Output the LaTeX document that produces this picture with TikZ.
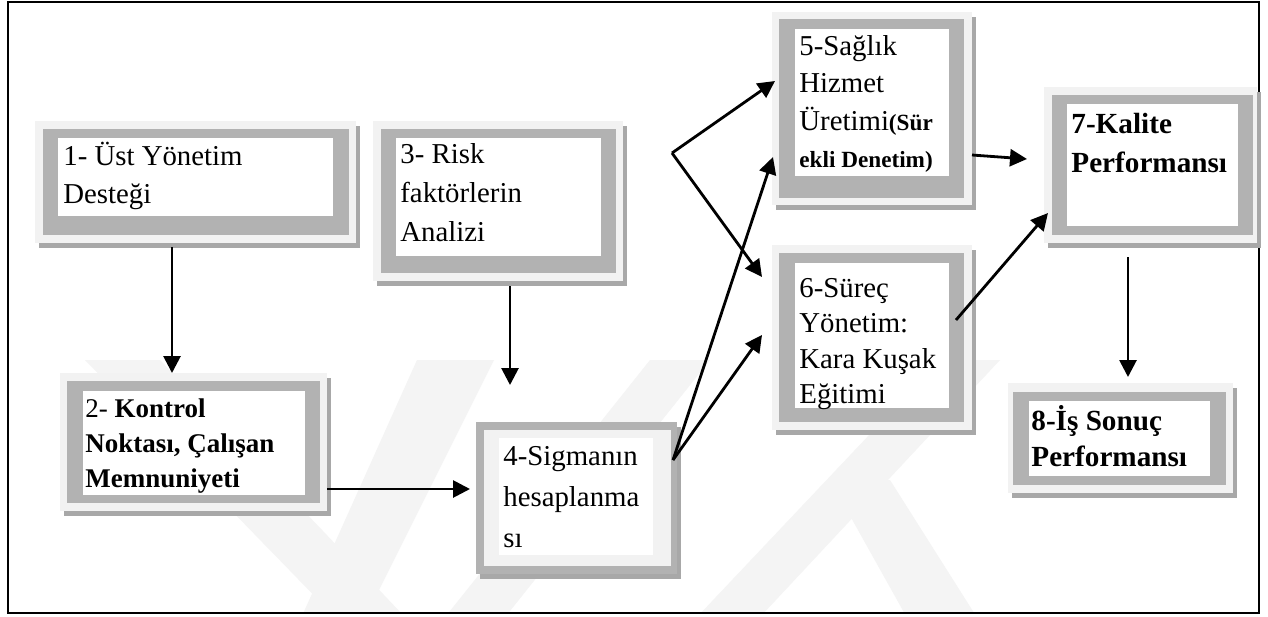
\documentclass[tikz,border=0pt]{standalone}
\usepackage{fontspec}
\setmainfont{Liberation Serif}
\usetikzlibrary{arrows.meta,fit,calc}
\definecolor{boxlight}{HTML}{F2F2F2}
\definecolor{boxgray}{HTML}{B2B2B2}
\definecolor{boxshadow}{HTML}{A8A8A8}
\definecolor{markgray}{HTML}{F4F4F4}
% stacked lines with a fixed baseline distance; the first baseline is the box baseline
\newcommand\rows[2]{\vtop{\baselineskip=#1\lineskiplimit=-\maxdimen #2}}
\newcommand\rowline[1]{\hbox{#1}}
\tikzset{
  lite/.style={fill=boxlight, draw=none, inner sep=0pt, outer sep=0pt},
  rimnode/.style={fill=boxgray, draw=none, inner sep=0pt, outer sep=0pt},
  shade/.style={fill=boxshadow},
  rim/.style={fill=boxgray},
  pane/.style={fill=white},
  emblem/.style={fill=markgray},
  lbl/.style={anchor=base west, inner sep=0pt, font=\fontsize{14.4}{17}\selectfont},
  boldlbl/.style={lbl, font=\fontsize{14.6}{17}\selectfont\bfseries},
  arr/.style={-{Triangle[length=8.5pt,width=8.5pt]}, line width=1.4pt}
}
\begin{document}
\begin{tikzpicture}[x=0.5pt,y=-0.5pt]
\useasboundingbox (0,0) rectangle (1268,616);
\fill[white] (0,0) rectangle (1268,616);

% faint background emblem
\begin{scope}
\clip (9,3) rectangle (1258,612);
\fill[emblem] (85,360) -- (160,360) -- (404,616) -- (334,616) -- cycle;
\fill[emblem] (417,360) -- (494,360) -- (366,616) -- (302,616) -- cycle;
\fill[emblem] (650,360) -- (710,360) -- (506,616) -- (446,616) -- cycle;
\fill[emblem] (940,360) -- (1000,360) -- (761,616) -- (698,616) -- cycle;
\fill[emblem] (830,480) -- (890,480) -- (976,616) -- (906,616) -- cycle;
\end{scope}

% outer frame
\draw[line width=1.2pt] (8,2) rectangle (1259,613);

% box 1
\fill[shade] (39,126) rectangle (360,248);
\node[lite, fit={(35,121)(356,243)}] (b1) {};
\fill[rim] (43,129) rectangle (349,235);
\fill[pane] (58,138) rectangle (333,216);
\node[lbl] (t1) at (63,165) {\rows{19pt}{\rowline{1- Üst Yönetim}\rowline{Desteği}}};

% box 2
\fill[shade] (64,378) rectangle (331,516);
\node[lite, fit={(60,373)(327,511)}] (b2) {};
\fill[rim] (67,381) rectangle (320,503);
\fill[pane] (83,391) rectangle (305,495);
\node[lbl, font=\fontsize{13.5}{16}\selectfont] (t2) at (85,417)
  {\rows{17.5pt}{\rowline{2- \textbf{Kontrol}}\rowline{\textbf{Noktası, Çalışan}}\rowline{\textbf{Memnuniyeti}}}};

% box 3
\fill[shade] (377,126) rectangle (627,286);
\node[lite, fit={(373,121)(623,281)}] (b3) {};
\fill[rim] (381,129) rectangle (616,273);
\fill[pane] (396,138) rectangle (601,256);
\node[lbl] (t3) at (400,163) {\rows{19.7pt}{\rowline{3- Risk}\rowline{faktörlerin}\rowline{Analizi}}};

% box 4
\fill[shade] (480,427) rectangle (681,579);
\node[rimnode, fit={(476,422)(677,574)}] (b4) {};
\fill[boxlight] (484,430) rectangle (671,566);
\fill[pane] (499,438) rectangle (653,555);
\node[lbl] (t4) at (503,465) {\rows{20.5pt}{\rowline{4-Sigmanın}\rowline{hesaplanma}\rowline{sı}}};

% box 5
\fill[shade] (776,17) rectangle (976,210);
\node[lite, fit={(772,12)(972,205)}] (b5) {};
\fill[rim] (779,19) rectangle (964,198);
\fill[pane] (795,29) rectangle (949,176);
\node[lbl] (t5) at (799,55) {\rows{18.8pt}{\rowline{5-Sağlık}\rowline{Hizmet}%
  \rowline{Üretimi{\bfseries\fontsize{11.6}{14}\selectfont(Sür}}%
  \rowline{\bfseries\fontsize{11.6}{14}\selectfont ekli Denetim)}}};

% box 6
\fill[shade] (776,250) rectangle (976,435);
\node[lite, fit={(772,245)(972,430)}] (b6) {};
\fill[rim] (779,253) rectangle (964,422);
\fill[pane] (795,263) rectangle (949,408);
\node[lbl] (t6) at (799,297) {\rows{17.8pt}{\rowline{6-Süreç}\rowline{Yönetim:}\rowline{Kara Kuşak}\rowline{Eğitimi}}};

% box 7
\fill[shade] (1048,92) rectangle (1261,248);
\node[lite, fit={(1044,87)(1257,243)}] (b7) {};
\fill[rim] (1052,95) rectangle (1253,235);
\fill[pane] (1067,104) rectangle (1238,226);
\node[boldlbl] (t7) at (1071,133) {\rows{19.5pt}{\rowline{7-Kalite}\rowline{Performansı}}};

% box 8
\fill[shade] (1012,388) rectangle (1237,498);
\node[lite, fit={(1008,383)(1233,493)}] (b8) {};
\fill[rim] (1013,392) rectangle (1226,485);
\fill[pane] (1029,401) rectangle (1210,476);
\node[boldlbl] (t8) at (1031,430) {\rows{18pt}{\rowline{8-İş Sonuç}\rowline{Performansı}}};

% connector guide points
\coordinate (k1) at (172,300);
\coordinate (k2) at (510,385);
\coordinate (k3) at (400,489);
\coordinate (j1) at (672,153);
\coordinate (j2) at (673,460);
\coordinate (e5a) at (775,81);
\coordinate (e6a) at (762,277);
\coordinate (e6b) at (762,335);
\coordinate (e5b) at (773,157);
\coordinate (s57) at (972,155);
\coordinate (e57) at (1027,159);
\coordinate (s67) at (956,320);
\coordinate (e67) at (1048,213);
\coordinate (k4) at (1128,300);

% connectors
\draw[arr] ($(b1.south -| k1)+(0,4)$) -- (b2.north -| k1);
\draw[arr] ($(b3.south -| k2)+(0,5)$) -- (k2);
\draw[arr] (b2.east |- k3) -- ($(b4.west |- k3)+(-6,0)$);
\draw[arr] (j1) -- (e5a);
\draw[arr] (j1) -- (e6a);
\draw[arr] (j2) -- (e6b);
\draw[arr] (j2) -- (e5b);
\draw[arr] (s57) -- (e57);
\draw[arr] (s67) -- (e67);
\draw[arr] ($(b7.south -| k4)+(0,14)$) -- ($(b8.north -| k4)+(0,-6)$);
\end{tikzpicture}
\end{document}
